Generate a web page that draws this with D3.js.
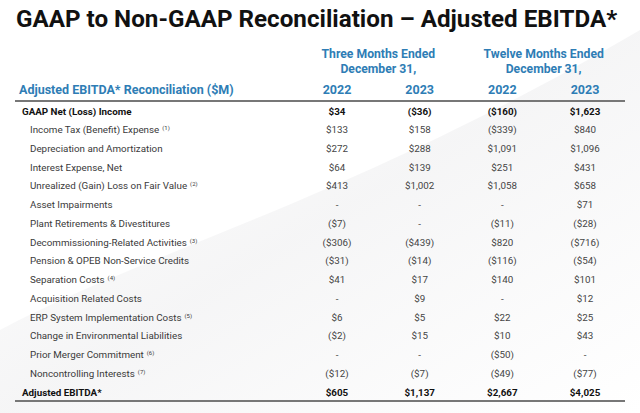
<!DOCTYPE html>
<html><head><meta charset="utf-8">
<script src="https://cdn.jsdelivr.net/npm/d3@7"></script>
<style>
html,body{margin:0;padding:0;background:#fff;}
svg{display:block;font-family:"Roboto","Liberation Sans",sans-serif;}
</style></head>
<body>
<svg id="c" width="640" height="413"></svg>
<script>
const title = "GAAP to Non-GAAP Reconciliation \u2013 Adjusted EBITDA*";
const tableHeader = "Adjusted EBITDA* Reconciliation ($M)";
const groupLabels = [["Three Months Ended","December 31,"],["Twelve Months Ended","December 31,"]];
const columns = ["2022","2023","2022","2023"];
const rowLabels = ["GAAP Net (Loss) Income","Income Tax (Benefit) Expense","Depreciation and Amortization","Interest Expense, Net","Unrealized (Gain) Loss on Fair Value","Asset Impairments","Plant Retirements & Divestitures","Decommissioning-Related Activities","Pension & OPEB Non-Service Credits","Separation Costs","Acquisition Related Costs","ERP System Implementation Costs","Change in Environmental Liabilities","Prior Merger Commitment","Noncontrolling Interests","Adjusted EBITDA*"];
const rowNotes = [null,"(1)",null,null,"(2)",null,null,"(3)",null,"(4)",null,"(5)",null,"(6)","(7)",null];
const boldRows = [true,false,false,false,false,false,false,false,false,false,false,false,false,false,false,true];
const q4_2022 = [34,133,272,64,413,null,-7,-306,-31,41,null,6,-2,null,-12,605];
const q4_2023 = [-36,158,288,139,1002,null,null,-439,-14,17,9,5,15,null,-7,1137];
const fy_2022 = [-160,-339,1091,251,1058,null,-11,820,-116,140,null,22,10,-50,-49,2667];
const fy_2023 = [1623,840,1096,431,658,71,-28,-716,-54,101,12,25,43,null,-77,4025];
const series = [q4_2022,q4_2023,fy_2022,fy_2023];

const svg = d3.select("#c");
const blue = "#2e7db5";
const defs = svg.append("defs");
const g1 = defs.append("linearGradient").attr("id","bg").attr("x1","0").attr("y1","0").attr("x2","1").attr("y2","1");
g1.append("stop").attr("offset","0").attr("stop-color","#ffffff");
g1.append("stop").attr("offset","0.5").attr("stop-color","#f3f3f4");
g1.append("stop").attr("offset","1").attr("stop-color","#ffffff");
svg.append("rect").attr("width",640).attr("height",413).attr("fill","#fff");
svg.append("path").attr("d","M0,330 C150,250 350,200 640,30 L640,413 L0,413 Z").attr("fill","url(#bg)").attr("opacity",0.8);

svg.append("text").attr("x",16).attr("y",27).text(title)
  .attr("font-size",24.2).attr("font-weight",700).attr("fill","#111");

const x = d3.scalePoint().domain(d3.range(columns.length)).range([337,585]);
const y = d3.scalePoint().domain(d3.range(rowLabels.length)).range([111,392]);

const gx = [(x(0)+x(1))/2, (x(2)+x(3))/2];
groupLabels.forEach((lines,i)=>{
  lines.forEach((t,j)=>{
    svg.append("text").attr("x",gx[i]).attr("y",58+j*14.5).attr("text-anchor","middle")
      .attr("font-size",12.2).attr("font-weight",700).attr("fill",blue).text(t);
  });
});
svg.selectAll("text.yr").data(columns).join("text").attr("class","yr")
  .attr("x",(d,i)=>x(i)).attr("y",94).attr("text-anchor","middle")
  .attr("font-size",12.5).attr("font-weight",700).attr("fill",blue).text(d=>d);
svg.append("text").attr("x",19).attr("y",94).attr("font-size",12.5).attr("font-weight",700)
  .attr("fill",blue).text(tableHeader);

svg.append("line").attr("x1",15).attr("x2",625).attr("y1",101).attr("y2",101).attr("stroke","#777").attr("stroke-width",2);
svg.append("line").attr("x1",15).attr("x2",625).attr("y1",401).attr("y2",401).attr("stroke","#777").attr("stroke-width",2);

const fmt = d3.format(",");
const fv = v => v==null ? "-" : (v<0 ? "($"+fmt(-v)+")" : "$"+fmt(v));

const rows = svg.selectAll("g.row").data(rowLabels).join("g").attr("class","row")
  .attr("transform",(d,i)=>`translate(0,${y(i)+3.5})`);
rows.each(function(lbl,i){
  const g = d3.select(this);
  const t = g.append("text").attr("x",boldRows[i]?22:30).attr("font-size",9.8)
    .attr("font-weight",boldRows[i]?700:400).attr("fill",boldRows[i]?"#111":"#3a3a3a").text(lbl);
  if(rowNotes[i]) t.append("tspan").attr("font-size",6).attr("dx",3).attr("dy",-3).text(rowNotes[i]);
  series.forEach((s,c)=>{
    g.append("text").attr("x",x(c)).attr("text-anchor","middle").attr("font-size",9.8)
      .attr("font-weight",boldRows[i]?700:400).attr("fill",boldRows[i]?"#111":"#444")
      .text(fv(s[i]));
  });
});
</script>
</body></html>
